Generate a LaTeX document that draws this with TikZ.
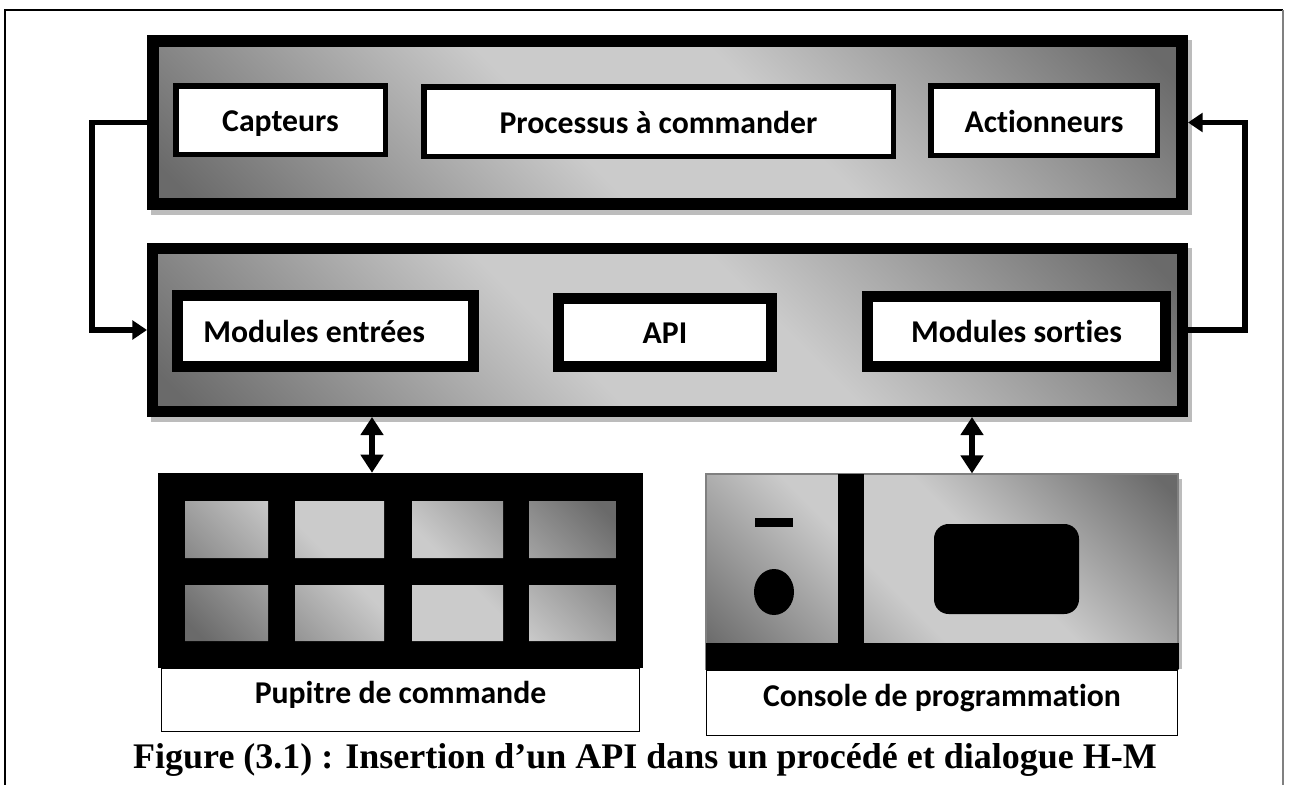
\documentclass[tikz,border=0pt]{standalone}
\usepackage{fontspec}
\newfontfamily\boxfont{Carlito}[Ligatures=NoCommon]
\newfontfamily\capfont{Liberation Serif}
\usetikzlibrary{arrows.meta}

\definecolor{shdark}{RGB}{106,106,106}
\definecolor{shlight}{RGB}{203,203,203}
\definecolor{shadowgray}{RGB}{188,188,188}
% diagonal grey shading: dark in two opposite corners, light band in between
\pgfdeclareverticalshading{panelshade}{100bp}{color(0bp)=(shdark); color(17bp)=(shdark); color(43bp)=(shlight); color(57bp)=(shlight); color(83bp)=(shdark); color(100bp)=(shdark)}

\tikzset{
  grad/.style={shading=panelshade, shading angle=-45},
  bigbox/.style={grad, draw=black, inner sep=0pt},
  smallbox/.style={draw=black, fill=white, inner sep=0pt, line width=4.125pt, text height=17.25pt, text depth=0pt},
  modbox/.style={draw=black, fill=white, inner sep=0pt, line width=8.25pt, text height=16.5pt, text depth=0pt},
  lbl/.style={font=\boxfont\bfseries\fontsize{23.8pt}{28pt}\selectfont},
  namebox/.style={draw=black, fill=white, inner sep=0pt, line width=1.1pt, text height=5.5pt, text depth=0pt},
  feedback/.style={line width=4.2pt, -{Triangle[length=11pt,width=14pt]}},
  dbl/.style={line width=4.9pt, {Triangle[length=13.5pt,width=16.5pt]}-{Triangle[length=13.5pt,width=16.5pt]}},
}

\begin{document}
\begin{tikzpicture}[x=0.75pt,y=-0.75pt]
\useasboundingbox (0,0) rectangle (1293,785);

% frame
\draw[line width=1.5pt] (5,785) -- (5,10) -- (1283,10);
\draw[gray, line width=1pt] (1283,10) -- (1283,785);

% shadows of the two large blocks
\fill[shadowgray] (151,40) rectangle (1192,215);
\fill[shadowgray] (151,248) rectangle (1192,422);

% process block
\node[bigbox, line width=9pt, minimum width=771.75pt, minimum height=122.25pt] (proc) at (667.5,122.5) {};
\node[smallbox, lbl, minimum width=157.125pt, minimum height=51.375pt] (capt) at (280.5,120) {Capteurs};
\node[smallbox, lbl, minimum width=352.125pt, minimum height=52.125pt] (procx) at (658.5,121.5) {Processus à commander};
\node[smallbox, lbl, minimum width=169.875pt, minimum height=52.125pt] (act) at (1044,120.5) {Actionneurs};

% controller block
\node[bigbox, line width=8.25pt, minimum width=772.5pt, minimum height=122.25pt] (plc) at (667.5,330) {};
\node[modbox, lbl, minimum width=222pt, minimum height=53.25pt] (modin) at (325.5,331) {Modules entrées\hspace*{17pt}};
\node[modbox, lbl, minimum width=159.75pt, minimum height=51pt] (api) at (665,332.5) {API};
\node[modbox, lbl, minimum width=223.5pt, minimum height=52.5pt] (modout) at (1016.5,331.5) {Modules sorties};

% feedback loops
\coordinate (lx) at (92,0);
\coordinate (rx) at (1245,0);
\draw[feedback] (proc.west) -- (proc.west -| lx) |- (plc.west);
\draw[feedback] (plc.east) -- (plc.east -| rx) |- (proc.east);

% control desk
\node[fill=black, inner sep=0pt, minimum width=363.75pt, minimum height=146.25pt] (pup) at (400.5,570.5) {};
\begin{scope}
  \clip (185,501) rectangle (268,558) (295,501) rectangle (384,558)
        (412,501) rectangle (503,558) (529,501) rectangle (616,558)
        (185,585) rectangle (268,641) (295,585) rectangle (384,641)
        (412,585) rectangle (503,641) (529,585) rectangle (616,641);
  \shade[grad] (185,501) rectangle (616,641);
\end{scope}
\node[namebox, lbl, minimum width=358.125pt, minimum height=46.875pt] (puplbl) at (400.5,700) {Pupitre de commande};

% programming console
\fill[shadowgray] (1178,479) rectangle (1182,669);
\node[grad, draw=gray, line width=0.9pt, inner sep=0pt, minimum width=354pt, minimum height=146.25pt] (cons) at (942,571.5) {};
\fill (838,474) rectangle (864,643);
\fill (706,643) rectangle (1178.5,669);
\fill (755,518) rectangle (793,527);
\fill (774,592) ellipse [x radius=20, y radius=23];
\fill[rounded corners=11pt] (934,524) rectangle (1079,614);
\node[namebox, lbl, minimum width=352.9pt, minimum height=49.1pt] (conslbl) at (942,702.5) {Console de programmation};

% links to the operator devices
\coordinate (pa) at (372,0);
\coordinate (ca) at (972,0);
\draw[dbl] (pa |- plc.south) -- (pa |- pup.north);
\draw[dbl] (ca |- plc.south) -- (ca |- cons.north);

% caption
\node[font=\capfont\bfseries\fontsize{27pt}{32pt}\selectfont] (cap) at (645,760) {Figure (3.1) : Insertion d’un API dans un procédé et dialogue H-M};
\end{tikzpicture}
\end{document}
